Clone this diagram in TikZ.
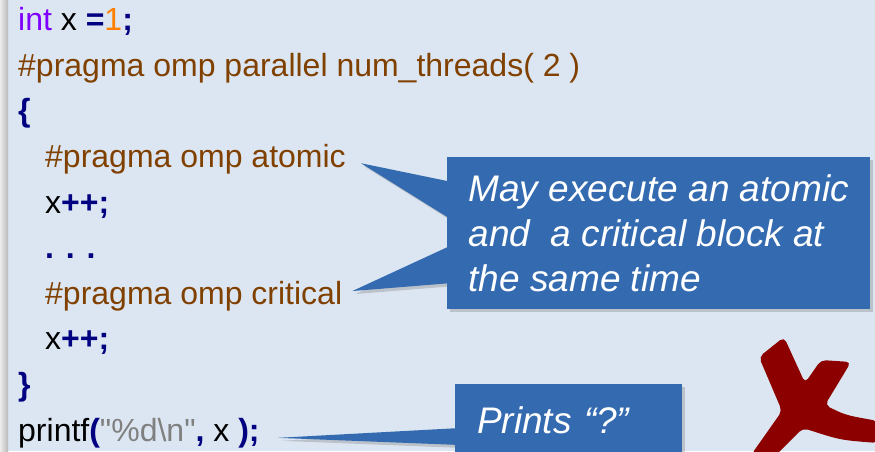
\documentclass[tikz,border=0pt]{standalone}
\usepackage{fontspec}
\setmainfont{Liberation Sans}[Ligatures=TeXOff]
\usepackage{xcolor}
\usetikzlibrary{calc,shadows}

\definecolor{bgblue}{HTML}{DCE6F2}
\definecolor{calloutblue}{HTML}{336AB0}
\definecolor{kwpurple}{HTML}{8000FF}
\definecolor{numorange}{HTML}{FF8000}
\definecolor{opnavy}{HTML}{000080}
\definecolor{pragmabrown}{HTML}{804000}
\definecolor{strgray}{HTML}{808080}
\definecolor{crossred}{HTML}{8C0000}

\newcommand{\codefont}{\fontsize{32}{38}\selectfont}
\newcommand{\notefont}{\fontsize{37}{45}\selectfont\itshape}
\newcommand{\codeop}[1]{\textcolor{opnavy}{\textbf{#1}}}
\newcommand{\codedir}[1]{\textcolor{pragmabrown}{#1}}
\newcommand{\codestr}[1]{\textcolor{strgray}{\symbol{34}#1\symbol{34}}}

\begin{document}
\begin{tikzpicture}[x=1pt, y=-1pt]
    \tikzstyle{code} = [anchor=base west, inner sep=0pt, font=\codefont]
    \tikzstyle{note} = [rectangle, anchor=north west, fill=calloutblue, text=white, font=\notefont, drop shadow={shadow xshift=3pt, shadow yshift=-3pt, opacity=0.35}]
    \tikzstyle{pointer} = [fill=calloutblue, drop shadow={shadow xshift=3pt, shadow yshift=-3pt, opacity=0.35}]

    \useasboundingbox (0,0) rectangle (875,451);

    % Slide background
    \fill [bgblue] (0,0) rectangle (875,451);
    \shade [left color=gray!15, right color=gray!55] (0,0) rectangle (8,451);

    % Code lines
    \node [code] (int_line) at (18,30.7) {\textcolor{kwpurple}{int} x \codeop{=}\textcolor{numorange}{1}\codeop{;}};
    \node [code] (parallel) at (18,76.3) {\codedir{\#pragma omp parallel num\_threads( 2 )}};
    \node [code] (brace_open) at (18,121.9) {\codeop{\{}};
    \node [code] (atomic) at (45,167.5) {\codedir{\#pragma omp atomic}};
    \node [code] (inc_atomic) at (45,213.1) {x\codeop{++;}};
    \node [code] (dots) at (45,258.7) {\codeop{. . .}};
    \node [code] (critical) at (45,304.3) {\codedir{\#pragma omp critical}};
    \node [code] (inc_critical) at (45,349.9) {x\codeop{++;}};
    \node [code] (brace_close) at (18,395.5) {\codeop{\}}};
    \node [code] (printf_line) at (18,441.1) {printf\codeop{(}\codestr{\%d\textbackslash n}\codeop{,} x \codeop{);}};

    % Callout corners
    \coordinate (race_corner) at (447,157);
    \coordinate (print_corner) at (455,384);

    % Callout pointers
    \fill [pointer] ($(atomic.east)+(15,4)$) -- ($(race_corner)+(5,25)$) -- ($(race_corner)+(5,63)$) -- cycle;
    \fill [pointer] ($(critical.east)+(10,-5)$) -- ($(race_corner)+(5,88)$) -- ($(race_corner)+(5,126)$) -- cycle;
    \fill [pointer] ($(printf_line.east)+(18,5)$) -- ($(print_corner)+(5,44)$) -- ($(print_corner)+(5,61)$) -- cycle;

    % Callouts
    \node [note, minimum width=423pt, minimum height=152pt, align=left, inner sep=0pt] (note_race) at (race_corner) {May execute an atomic\\and\ \ a critical block at\\the same time};
    \node [note, text width=183pt, inner xsep=22pt, inner ysep=22.5pt, align=left] (note_print) at (print_corner) {Prints “?”};

    % Red cross
    \fill [crossred, rounded corners=5pt] (759,357) -- (784,337) -- (805,383) -- (821,360) -- (851,362) -- (825,405) .. controls (845,415) .. (878,421) -- (878,443) .. controls (840,440) .. (803,428) -- (776,455) -- (751,455) -- (782,411) -- cycle;
\end{tikzpicture}
\end{document}
